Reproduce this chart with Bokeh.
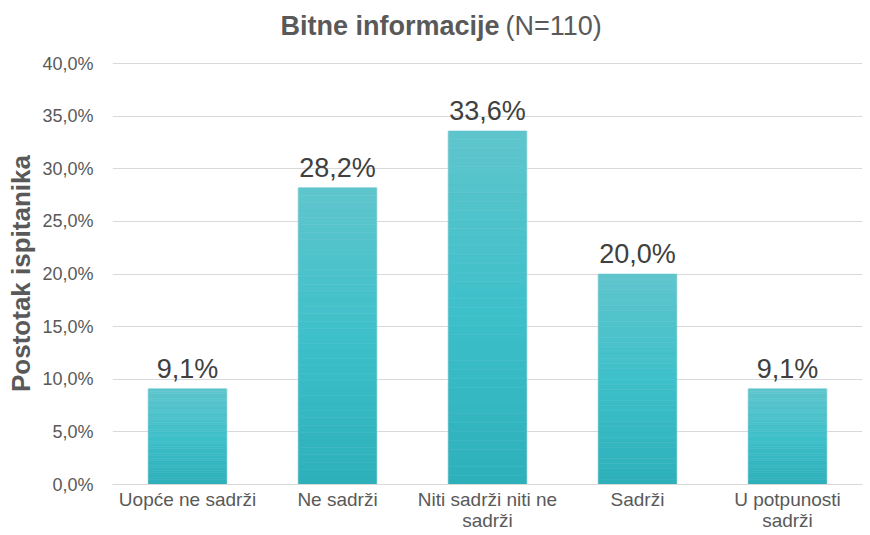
from bokeh.plotting import figure
from bokeh.models import FixedTicker, Label, ColumnDataSource, Range1d
from bokeh.layouts import column
from bokeh.embed import file_html
from bokeh.resources import INLINE
from bokeh.core.properties import value

categories = ["Uopće ne sadrži", "Ne sadrži", "Niti sadrži niti ne\nsadrži", "Sadrži", "U potpunosti\nsadrži"]
values = [9.1, 28.2, 33.6, 20.0, 9.1]
y_ticks = [0, 5, 10, 15, 20, 25, 30, 35, 40]
title_bold = "Bitne informacije"
title_rest = "(N=110)"
y_label = "Postotak ispitanika"

FONT = "Liberation Sans"
GREY = "#595959"
W = 863
TH = 50
LEFT = 112
RIGHT = 1

# ---- title strip (its frame is aligned with the chart frame by the column layout) ----
t = figure(width=W, height=TH, output_backend="svg", toolbar_location=None,
           x_range=Range1d(LEFT, W - RIGHT), y_range=Range1d(0, TH),
           x_axis_location=None, y_axis_location=None,
           min_border_left=LEFT, min_border_right=RIGHT, min_border_top=0, min_border_bottom=0)
t.grid.visible = False
t.outline_line_color = None
t.add_layout(Label(x=499, y=TH - 40, text=title_bold, text_align="right", text_baseline="bottom",
                   text_font=FONT, text_font_style="bold", text_font_size="27px", text_color=GREY))
t.add_layout(Label(x=505, y=TH - 40, text=title_rest, text_align="left", text_baseline="bottom",
                   text_font=FONT, text_font_size="27px", text_color=GREY))

# ---- main chart ----
H = 535 - TH
p = figure(width=W, height=H, output_backend="svg", toolbar_location=None,
           x_range=Range1d(-0.5, len(categories) - 0.5), y_range=Range1d(0, 40.1),
           min_border_left=LEFT, min_border_right=RIGHT, min_border_top=62 - TH, min_border_bottom=H - (484 - TH))
p.outline_line_color = None
p.background_fill_color = "white"

stops = [(0.0, (0x2E, 0xB0, 0xBA)), (0.5, (0x3E, 0xC0, 0xCA)), (1.0, (0x5F, 0xC5, 0xCC))]

def grad(tt):
    for (t0, c0), (t1, c1) in zip(stops[:-1], stops[1:]):
        if t0 <= tt <= t1:
            f = (tt - t0) / (t1 - t0)
            return "#%02x%02x%02x" % tuple(int(round(a + (b - a) * f)) for a, b in zip(c0, c1))
    return "#%02x%02x%02x" % stops[-1][1]

N = 40
xs, bots, tops, cols = [], [], [], []
for i, v in enumerate(values):
    for k in range(N):
        xs.append(i)
        bots.append(v * k / N)
        tops.append(v * (k + 1) / N)
        cols.append(grad((k + 0.5) / N))

p.vbar(x=list(range(len(values))), top=values, bottom=0, width=0.535,
       fill_color="#d0d0d0", line_color=None, fill_alpha=0.6)
p.vbar(x=xs, top=tops, bottom=bots, width=0.52, fill_color=cols, line_color=cols, line_width=0.5)

src = ColumnDataSource(dict(x=list(range(len(values))), y=values,
                            t=[("%.1f" % v).replace(".", ",") + "%" for v in values]))
p.text(x="x", y="y", text="t", source=src, text_align="center", text_baseline="bottom",
       y_offset=-5, text_font=value(FONT), text_font_size="27px", text_color="#404040")

p.yaxis.ticker = FixedTicker(ticks=y_ticks)
p.yaxis.major_label_overrides = {tk: ("%.1f" % tk).replace(".", ",") + "%" for tk in y_ticks}
p.yaxis.axis_line_color = None
p.yaxis.major_tick_line_color = None
p.yaxis.major_tick_out = 0
p.yaxis.major_tick_in = 0
p.yaxis.minor_tick_line_color = None
p.yaxis.major_label_text_font = FONT
p.yaxis.major_label_text_font_size = "18px"
p.yaxis.major_label_text_color = GREY
p.yaxis.major_label_standoff = 19
p.yaxis.axis_label = y_label
p.yaxis.axis_label_text_font = FONT
p.yaxis.axis_label_text_font_style = "bold"
p.yaxis.axis_label_text_font_size = "26px"
p.yaxis.axis_label_text_color = GREY
p.yaxis.axis_label_standoff = 3

p.xaxis.ticker = FixedTicker(ticks=list(range(len(categories))))
p.xaxis.major_label_overrides = {i: c for i, c in enumerate(categories)}
p.xaxis.axis_line_color = "#d9d9d9"
p.xaxis.major_tick_line_color = None
p.xaxis.major_tick_out = 0
p.xaxis.major_tick_in = 0
p.xaxis.minor_tick_line_color = None
p.xaxis.major_label_text_font = FONT
p.xaxis.major_label_text_font_size = "19px"
p.xaxis.major_label_text_line_height = 1.0
p.xaxis.major_label_text_color = GREY
p.xaxis.major_label_standoff = 4

p.xgrid.grid_line_color = None
p.ygrid.grid_line_color = "#d9d9d9"
p.ygrid.grid_line_width = 1

layout = column(t, p, spacing=0)
open("out.html", "w").write(file_html(layout, INLINE))
